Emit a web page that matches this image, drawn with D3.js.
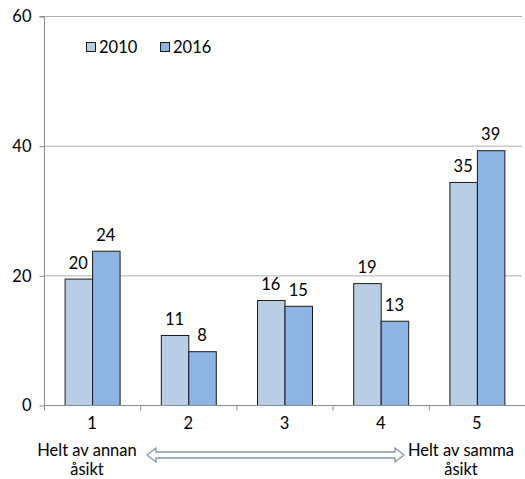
<!DOCTYPE html>
<html><head><meta charset="utf-8">
<script src="https://cdn.jsdelivr.net/npm/d3@7"></script>
<style>body{margin:0;background:#fff}svg{display:block}text{font-family:Lato,"Open Sans",sans-serif}</style>
</head><body><svg id="c" width="525" height="479"></svg>
<script>
const categories = ["1","2","3","4","5"];
const series = ["2010","2016"];
const values2010 = [19.5, 10.8, 16.2, 18.8, 34.4];
const values2016 = [23.8, 8.3, 15.3, 13.0, 39.3];
const labels2010 = ["20","11","16","19","35"];
const labels2016 = ["24","8","15","13","39"];
const yTicks = [0, 20, 40, 60];
const endLabels = [["Helt av annan","åsikt"],["Helt av samma","åsikt"]];
const colors = {"2010":"#b9cde5","2016":"#8eb4e3"};

const svg = d3.select("#c");
const m = {l:44, r:0, t:16, b:74};
const W = 525, H = 479;
const FS = 16.5;
const x = d3.scaleBand().domain(categories).range([m.l, W - m.r]).paddingInner(0).paddingOuter(0);
const y = d3.scaleLinear().domain([0, 60]).range([H - m.b, m.t]);
const x1 = d3.scaleBand().domain(series).range([0, x.bandwidth()]).paddingOuter(0.75).paddingInner(0);

// gridlines
svg.append("g").selectAll("line").data(yTicks.filter(d=>d>0)).join("line")
  .attr("x1", m.l).attr("x2", W - 3).attr("y1", d=>y(d)+0.5).attr("y2", d=>y(d)+0.5)
  .attr("stroke", "#b0b0b0").attr("stroke-width", 1);

// bars
const data = categories.map((c,i)=>({c, vals:[{s:"2010",v:values2010[i],l:labels2010[i]},{s:"2016",v:values2016[i],l:labels2016[i]}]}));
const g = svg.append("g").selectAll("g").data(data).join("g").attr("transform", d=>`translate(${x(d.c)},0)`);
g.selectAll("rect").data(d=>d.vals).join("rect")
  .attr("x", d=>x1(d.s)+0.5).attr("width", x1.bandwidth())
  .attr("y", d=>y(d.v)+0.5).attr("height", d=>y(0)-y(d.v))
  .attr("fill", d=>colors[d.s]).attr("stroke", "#1a1a1a").attr("stroke-width", 1);
g.selectAll("text").data(d=>d.vals).join("text")
  .attr("x", d=>x1(d.s)+x1.bandwidth()/2).attr("y", d=>y(d.v)-10)
  .attr("text-anchor","middle").attr("font-size", FS).attr("fill","#000").text(d=>d.l);

// y axis
const ya = svg.append("g").attr("transform", `translate(${m.l+0.5},0.5)`)
  .call(d3.axisLeft(y).tickValues(yTicks).tickSize(5).tickPadding(8).tickFormat(d3.format("d")));
ya.select(".domain").attr("stroke","#8c8c8c").attr("d", `M-5,${y(60)}H0V${y(0)}`);
ya.selectAll(".tick line").attr("stroke","#8c8c8c");
ya.selectAll(".tick text").attr("font-size",FS).attr("fill","#000").style("font-family","Lato,sans-serif");

// x axis
const xa = svg.append("g").attr("transform", `translate(0,${y(0)+0.5})`);
xa.append("line").attr("x1", m.l).attr("x2", W).attr("stroke","#8c8c8c");
xa.selectAll("line.t").data(categories.concat(["end"])).join("line").attr("class","t")
  .attr("x1", (d,i)=> (i<categories.length? x(d): W-m.r)+0.5).attr("x2",(d,i)=> (i<categories.length? x(d): W-m.r)+0.5)
  .attr("y1",0).attr("y2",5).attr("stroke","#8c8c8c");
xa.selectAll("text").data(categories).join("text")
  .attr("x", d=>x(d)+x.bandwidth()/2).attr("y", 23).attr("text-anchor","middle")
  .attr("font-size",FS).attr("fill","#000").text(d=>d);

// end labels
const endX = [87, 461];
endLabels.forEach((lines,i)=>{
  const t = svg.append("text").attr("text-anchor","middle").attr("font-size",FS).attr("fill","#000");
  lines.forEach((s,j)=> t.append("tspan").attr("x", endX[i]).attr("y", 456 + j*19).text(s));
});

// double arrow
const ax0 = 147, ax1 = 404, ay = 455, hw = 3, hh = 7, hl = 9;
const path = `M${ax0},${ay} L${ax0+hl},${ay-hh} L${ax0+hl},${ay-hw} L${ax1-hl},${ay-hw} L${ax1-hl},${ay-hh} L${ax1},${ay} L${ax1-hl},${ay+hh} L${ax1-hl},${ay+hw} L${ax0+hl},${ay+hw} L${ax0+hl},${ay+hh} Z`;
svg.append("path").attr("d", path).attr("fill","#fff").attr("stroke","#8497b0").attr("stroke-width",1.3);

// legend
const lg = svg.append("g").attr("transform","translate(86,42)");
series.forEach((s,i)=>{
  const gg = lg.append("g").attr("transform",`translate(${i*74},0)`);
  gg.append("rect").attr("x",0.5).attr("y",0.5).attr("width",9).attr("height",9).attr("fill",colors[s]).attr("stroke","#1a1a1a");
  gg.append("text").attr("x",13).attr("y",10.5).attr("font-size",FS).attr("fill","#000").text(s);
});
</script></body></html>
